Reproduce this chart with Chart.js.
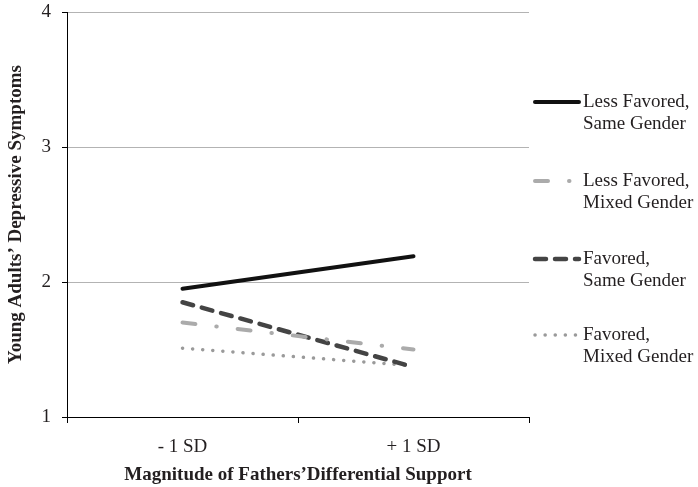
<!DOCTYPE html>
<html>
<head>
<meta charset="utf-8">
<script src="https://cdn.jsdelivr.net/npm/chart.js@4"></script>
<style>
  html, body { margin: 0; padding: 0; background: #fff; }
  #wrap { width: 698px; height: 487px; }
</style>
</head>
<body>
<div id="wrap"><canvas id="chart" width="698" height="487"></canvas></div>
<script>
'use strict';

const categories = ['- 1 SD', '+ 1 SD'];
const lessFavoredSame = [1.95, 2.19];
const lessFavoredMixed = [1.70, 1.50];
const favoredSame = [1.85, 1.37];
const favoredMixed = [1.51, 1.38];
const seriesNames = [
  ['Less Favored,', 'Same Gender'],
  ['Less Favored,', 'Mixed Gender'],
  ['Favored,', 'Same Gender'],
  ['Favored,', 'Mixed Gender'],
];
const yTicks = [1, 2, 3, 4];

const SERIF = '"Liberation Serif", "Times New Roman", serif';
const GRID = '#b3b3b3';
const TEXT = '#231f20';

// legend drawn on the right, outside the plot
const sideLegend = {
  id: 'sideLegend',
  afterDraw(chart) {
    const ctx = chart.ctx;
    const x0 = chart.chartArea.right + 6;
    const rows = [102, 181, 259, 335];
    ctx.save();
    chart.data.datasets.forEach((ds, i) => {
      const y = rows[i];
      ctx.beginPath();
      ctx.strokeStyle = ds.borderColor;
      ctx.lineWidth = ds.borderWidth;
      ctx.lineCap = ds.borderCapStyle || 'butt';
      ctx.setLineDash(ds.borderDash || []);
      ctx.moveTo(x0, y);
      ctx.lineTo(x0 + 44, y);
      ctx.stroke();
      ctx.setLineDash([]);
      ctx.fillStyle = TEXT;
      ctx.font = '19px ' + SERIF;
      ctx.textBaseline = 'middle';
      ctx.textAlign = 'left';
      seriesNames[i].forEach((t, k) => ctx.fillText(t, x0 + 48, y + k * 22));
    });
    ctx.restore();
  },
};

new Chart(document.getElementById('chart'), {
  type: 'line',
  data: {
    labels: categories,
    datasets: [
      { label: 'Less Favored, Same Gender', data: lessFavoredSame, borderColor: '#111', borderWidth: 4, borderCapStyle: 'round' },
      { label: 'Less Favored, Mixed Gender', data: lessFavoredMixed, borderColor: '#ababab', borderWidth: 4, borderCapStyle: 'round', borderDash: [13, 21, 0.5, 21] },
      { label: 'Favored, Same Gender', data: favoredSame, borderColor: '#444', borderWidth: 4.5, borderCapStyle: 'round', borderDash: [11, 9] },
      { label: 'Favored, Mixed Gender', data: favoredMixed, borderColor: '#9a9a9a', borderWidth: 3.5, borderCapStyle: 'round', borderDash: [0.1, 10] },
    ].map(d => Object.assign(d, { pointRadius: 0, fill: false, tension: 0 })),
  },
  options: {
    responsive: false,
    animation: false,
    layout: { padding: { top: 12, right: 169, left: 0, bottom: 0 } },
    plugins: { legend: { display: false }, tooltip: { enabled: false } },
    scales: {
      x: {
        offset: true,
        grid: { display: true, drawOnChartArea: false, offset: true, tickLength: 6, tickColor: '#000' },
        border: { color: '#000', width: 1 },
        ticks: { color: TEXT, font: { family: SERIF, size: 19 }, padding: 13, maxRotation: 0 },
        title: { display: true, text: 'Magnitude of Fathers\u2019Differential Support', color: TEXT, font: { family: SERIF, size: 19, weight: 'bold' }, padding: { top: 0, bottom: 1 } },
        afterFit(scale) {
          scale.height = 70;
          scale.paddingLeft = 0;
          scale.paddingRight = 0;
        },
      },
      y: {
        min: 1,
        max: 4,
        afterBuildTicks(scale) { scale.ticks = yTicks.map(v => ({ value: v })); },
        grid: { color: GRID, tickColor: '#000', tickLength: 5, lineWidth: 1 },
        border: { color: '#000', width: 1 },
        ticks: { color: TEXT, font: { family: SERIF, size: 19 }, padding: 11 },
        title: { display: true, text: 'Young Adults\u2019 Depressive Symptoms', color: TEXT, font: { family: SERIF, size: 19, weight: 'bold' }, padding: { top: 5, bottom: 0 } },
        afterFit(scale) {
          scale.width = 67;
          scale.paddingTop = 0;
          scale.paddingBottom = 0;
        },
      },
    },
  },
  plugins: [sideLegend],
});
</script>
</body>
</html>
